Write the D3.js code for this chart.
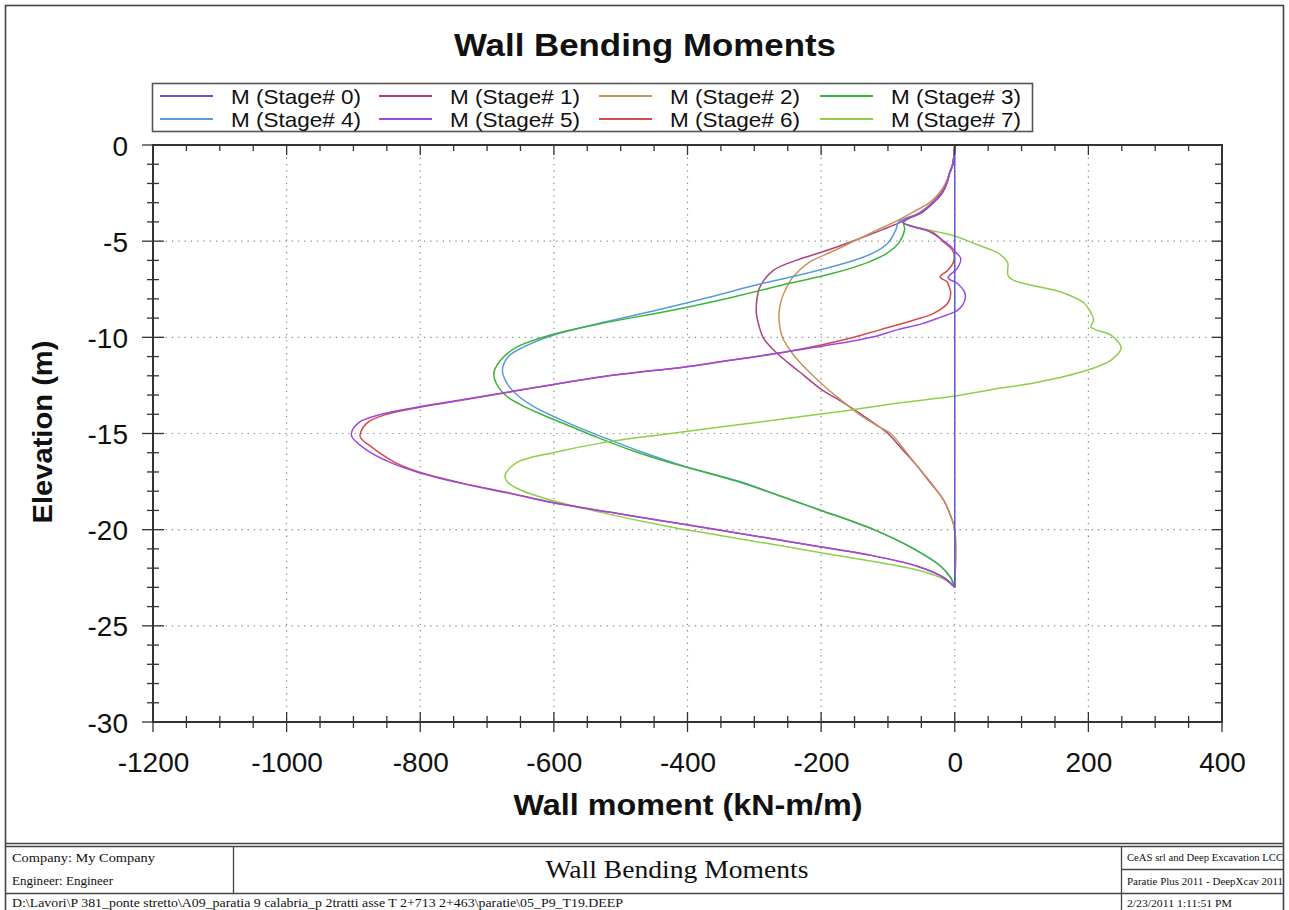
<!DOCTYPE html>
<html><head><meta charset="utf-8">
<script src="https://cdn.jsdelivr.net/npm/d3@7"></script>
<style>body{margin:0;background:#fff}svg{display:block}</style>
</head><body>
<svg id="c" width="1289" height="910"></svg>
<script>
// ---------- DATA ----------
const stageNames = ["M (Stage# 0)","M (Stage# 1)","M (Stage# 2)","M (Stage# 3)",
                    "M (Stage# 4)","M (Stage# 5)","M (Stage# 6)","M (Stage# 7)"];
const stageColors = ["#5a5ad2","#b0407c","#c8925c","#3cb43c","#5a9ad8","#9a4ae0","#d84a4a","#8cd04a"];

const s0Elev = [0,-23];
const s0M    = [0,0];

const s1Elev = [0,-0.5,-1,-1.5,-2,-2.5,-3,-3.5,-4,-4.4,-4.9,-5.5,-6,-6.5,-7,-7.5,-8,-8.7,-9.4,-10,-10.7,-11.3,-12,-12.7,-13.3,-14,-14.7,-15,-16,-16.7,-17.5,-18.5,-19.3,-20,-23];
const s1M    = [0,-1,-3,-8,-13,-21,-34,-52,-80,-108,-145,-193,-238,-271,-285,-293,-296,-297,-293,-287,-270,-250,-225,-200,-171,-140,-111,-100,-74,-56,-38,-16,-6,0,0];

const s2Elev = [0,-0.5,-1,-1.5,-2,-2.5,-3,-3.5,-4,-4.4,-4.9,-5.5,-6.1,-6.5,-7,-7.5,-8,-8.7,-9.4,-10,-10.7,-11.3,-12,-12.7,-13.1,-14,-14.7,-15,-16,-16.7,-17.5,-18.5,-19.3,-20,-23];
const s2M    = [0,-1,-3,-8,-14,-23,-38,-63,-90,-115,-145,-181,-218,-232,-245,-253,-259,-263,-262,-258,-246,-232,-212,-190,-176,-143,-111,-96,-72,-56,-37,-16,-6,0,0];

const s3Elev = [0,-0.5,-1,-1.5,-2,-2.5,-3,-3.5,-4,-4.4,-5.1,-5.6,-6.1,-6.66,-7.18,-7.9,-8.58,-9.26,-9.88,-10.5,-11.2,-11.9,-12.9,-13.5,-14.1,-14.7,-15.2,-15.9,-16.5,-17.5,-18.5,-19,-20,-21.1,-21.9,-22.5,-23];
const s3M    = [0,-1,-3,-8,-12,-19,-32,-49,-76,-75,-84,-100,-130,-181,-246,-331,-421,-526,-605,-655,-680,-690,-676,-650,-612,-570,-535,-482,-428,-325,-241,-200,-121,-56,-21,-6,0];

const s4Elev = [0,-0.5,-1,-1.5,-2,-2.5,-3,-3.5,-4,-4.4,-5.1,-5.6,-6.1,-6.66,-7.18,-7.9,-8.58,-9.26,-9.88,-10.5,-11,-11.7,-12.4,-13,-13.6,-14.2,-14.8,-15.4,-16,-16.7,-17.5,-18.5,-19,-20,-21.1,-21.9,-22.5,-23];
const s4M    = [0,-1,-3,-8,-12,-19,-33,-50,-84,-88,-100,-121,-160,-220,-286,-366,-445,-530,-600,-645,-668,-677,-670,-655,-630,-595,-555,-511,-465,-405,-322,-241,-200,-121,-56,-21,-6,0];

const s5Elev = [0,-0.5,-1,-1.5,-2,-2.5,-3,-3.5,-4,-4.5,-4.9,-5.3,-5.56,-5.9,-6.4,-6.9,-7.2,-7.6,-7.9,-8.3,-8.6,-9,-9.3,-9.6,-10,-10.3,-10.8,-11.27,-11.5,-12.06,-12.84,-13.26,-13.6,-14,-14.46,-15.1,-15.86,-16.5,-17,-17.58,-18.1,-18.56,-19.1,-19.6,-20,-20.9,-21.3,-21.9,-22.5,-23];
const s5M    = [0,-1,-3,-8,-12,-19,-32,-49,-78,-38,-20,-5,1,9,4,-10,4,14,16,12,4,-25,-50,-85,-125,-170,-260,-351,-395,-530,-668,-740,-800,-858,-893,-903,-880,-845,-805,-740,-668,-607,-515,-427,-355,-200,-130,-56,-16,0];

const s6Elev = [0,-0.5,-1,-1.5,-2,-2.5,-3,-3.5,-4,-4.58,-5,-5.56,-6.08,-6.5,-6.86,-7.1,-7.3,-7.7,-8.2,-8.74,-9.1,-9.6,-10,-10.4,-10.8,-11.27,-11.5,-12.06,-12.84,-13.26,-13.6,-14,-14.46,-15.15,-15.7,-16.5,-17,-17.58,-18.1,-18.56,-19.1,-19.6,-20,-20.9,-21.3,-21.9,-22.5,-23];
const s6M    = [0,-1,-3,-8,-12,-19,-32,-49,-78,-31,-18,-2,-2,-10,-22,-12,-9,-6,-10,-31,-61,-111,-151,-200,-260,-351,-395,-530,-665,-736,-795,-850,-880,-890,-873,-838,-802,-737,-665,-605,-515,-427,-355,-200,-130,-56,-16,0];

const s7Elev = [0,-0.5,-1,-1.5,-2,-2.5,-3,-3.5,-4,-4.73,-5.2,-5.6,-6.1,-6.86,-7.64,-8.2,-8.74,-9.1,-9.46,-9.88,-10.3,-10.56,-11.18,-11.7,-12.38,-12.64,-13.05,-13.4,-13.9,-14.66,-15,-15.5,-16,-16.5,-17.16,-17.5,-17.94,-18.46,-19.1,-19.86,-20.3,-21.2,-22.1,-22.6,-23];
const s7M    = [0,-1,-3,-8,-12,-19,-32,-49,-78,0,35,64,79,81,159,193,204,208,204,234,246,249,234,199,118,69,0,-81,-180,-351,-425,-530,-601,-655,-673,-670,-650,-605,-530,-425,-351,-200,-56,-15,0];

const xMajorTicks = [-1200,-1000,-800,-600,-400,-200,0,200,400];
const yMajorTicks = [0,-5,-10,-15,-20,-25,-30];

const chartTitle = "Wall Bending Moments";
const xTitle = "Wall moment (kN-m/m)";
const yTitle = "Elevation (m)";
const footerCompany = "Company: My Company";
const footerEngineer = "Engineer: Engineer";
const footerTitle = "Wall Bending Moments";
const footerPath = "D:\\Lavori\\P 381_ponte stretto\\A09_paratia 9 calabria_p 2tratti asse T 2+713 2+463\\paratie\\05_P9_T19.DEEP";
const footerRight = ["CeAS srl and Deep Excavation LCC","Paratie Plus 2011 - DeepXcav 2011","2/23/2011 1:11:51 PM"];

// ---------- DRAWING ----------
const svg = d3.select("#c");
const L=153, R=1222, T=145, B=722;
const x = d3.scaleLinear().domain([-1200,400]).range([L,R]);
const y = d3.scaleLinear().domain([0,-30]).range([T,B]);
const xMinor = d3.range(-1200,401,50);
const yMinor = d3.range(0,-30.5,-1);
const SANS = "'Liberation Sans', Arial, Helvetica, sans-serif";
const SERIF = "'Liberation Serif', 'Times New Roman', serif";

function fit(sel, w){ sel.attr("textLength", w).attr("lengthAdjust","spacingAndGlyphs"); }

// page border
svg.append("rect").attr("x",5.5).attr("y",5.5).attr("width",1278).attr("height",920)
  .attr("fill","#fff").attr("stroke","#444").attr("stroke-width",1.6);

// title
svg.append("text").attr("x",645).attr("y",56).attr("text-anchor","middle")
  .attr("font-family",SANS).attr("font-weight","bold").attr("font-size",32).attr("fill","#111")
  .text(chartTitle).call(fit,382);

// grid
const grid = svg.append("g").attr("stroke","#8a8a8a").attr("stroke-width",1.2).attr("stroke-dasharray","1.3,5");
xMajorTicks.filter(v=>v>-1200 && v<400).forEach(v=>{
  grid.append("line").attr("x1",x(v)).attr("x2",x(v)).attr("y1",T).attr("y2",B);
});
yMajorTicks.filter(v=>v<0 && v>-30).forEach(v=>{
  grid.append("line").attr("x1",L).attr("x2",R).attr("y1",y(v)).attr("y2",y(v));
});

// curves
svg.append("clipPath").attr("id","clip").append("rect").attr("x",L).attr("y",T).attr("width",R-L).attr("height",B-T);
const series = [
  {elev:s1Elev,m:s1M,c:stageColors[1]},{elev:s2Elev,m:s2M,c:stageColors[2]},
  {elev:s4Elev,m:s4M,c:stageColors[4]},{elev:s3Elev,m:s3M,c:stageColors[3]},
  {elev:s7Elev,m:s7M,c:stageColors[7]},{elev:s6Elev,m:s6M,c:stageColors[6]},
  {elev:s5Elev,m:s5M,c:stageColors[5]},{elev:s0Elev,m:s0M,c:stageColors[0]}
];
const line = d3.line().x(d=>x(d[0])).y(d=>y(d[1])).curve(d3.curveCatmullRom.alpha(0.5));
const cg = svg.append("g").attr("clip-path","url(#clip)");
series.forEach(s=>{
  cg.append("path").attr("d", line(d3.zip(s.m, s.elev)))
    .attr("fill","none").attr("stroke",s.c).attr("stroke-width",1.5).attr("stroke-linejoin","round");
});

// frame + ticks
const fr = svg.append("g").attr("stroke","#333").attr("stroke-width",1.3);
fr.append("rect").attr("x",L).attr("y",T).attr("width",R-L).attr("height",B-T).attr("fill","none").attr("stroke-width",2);
xMinor.forEach(v=>{
  const major = xMajorTicks.includes(v);
  const h = major?10:6;
  fr.append("line").attr("x1",x(v)).attr("x2",x(v)).attr("y1",B-h).attr("y2",B+h);
  if(v>-1200 && v<400) fr.append("line").attr("x1",x(v)).attr("x2",x(v)).attr("y1",T).attr("y2",T+(major?10:6));
});
yMinor.forEach(v=>{
  const major = yMajorTicks.includes(v);
  const h = major?11:6;
  fr.append("line").attr("x1",L-h).attr("x2",L+h).attr("y1",y(v)).attr("y2",y(v));
  if(v<0 && v>-30) fr.append("line").attr("x1",R-(major?10:7)).attr("x2",R).attr("y1",y(v)).attr("y2",y(v));
});

// axis labels via d3 axes (tick lines hidden, labels only)
const xAxis = svg.append("g").attr("transform",`translate(0,${B})`)
  .call(d3.axisBottom(x).tickValues(xMajorTicks).tickSize(0).tickPadding(0).tickFormat(d3.format("d")));
xAxis.select(".domain").remove();
xAxis.selectAll("text").attr("y",50).attr("dy",null).attr("font-family",SANS).attr("font-size",28).attr("fill","#111")
  .text(d=>String(d));
const yAxis = svg.append("g").attr("transform",`translate(${L},0)`)
  .call(d3.axisLeft(y).tickValues(yMajorTicks).tickSize(0).tickPadding(25).tickFormat(d=>String(d)));
yAxis.select(".domain").remove();
yAxis.selectAll("text").attr("font-family",SANS).attr("font-size",28).attr("fill","#111").attr("dy","0.36em");

svg.append("text").attr("x",688).attr("y",815).attr("text-anchor","middle")
  .attr("font-family",SANS).attr("font-weight","bold").attr("font-size",29).attr("fill","#111")
  .text(xTitle).call(fit,349);
svg.append("text").attr("transform","translate(52,432) rotate(-90)").attr("text-anchor","middle")
  .attr("font-family",SANS).attr("font-weight","bold").attr("font-size",28).attr("fill","#111")
  .text(yTitle).call(fit,183);

// legend
const lg = svg.append("g");
lg.append("rect").attr("x",152.5).attr("y",83.5).attr("width",880).attr("height",48)
  .attr("fill","#fff").attr("stroke","#555").attr("stroke-width",1.6);
const colX = [160,379,599,820];
const rowY = [96,119];
stageNames.forEach((n,i)=>{
  const cx = colX[i%4], ry = rowY[Math.floor(i/4)];
  lg.append("line").attr("x1",cx).attr("x2",cx+53).attr("y1",ry).attr("y2",ry)
    .attr("stroke",stageColors[i]).attr("stroke-width",2);
  lg.append("text").attr("x",cx+71).attr("y",ry+7.5).attr("font-family",SANS).attr("font-size",21).attr("fill","#111")
    .text(n).call(fit,130);
});

// footer
const ft = svg.append("g").attr("stroke","#444").attr("stroke-width",1.3);
ft.append("line").attr("x1",5).attr("x2",1284).attr("y1",843.5).attr("y2",843.5);
ft.append("line").attr("x1",5).attr("x2",1284).attr("y1",846.5).attr("y2",846.5);
ft.append("line").attr("x1",233.5).attr("x2",233.5).attr("y1",846).attr("y2",893);
ft.append("line").attr("x1",1121.5).attr("x2",1121.5).attr("y1",846).attr("y2",912);
ft.append("line").attr("x1",5).attr("x2",1284).attr("y1",893.5).attr("y2",893.5);
ft.append("line").attr("x1",1121).attr("x2",1284).attr("y1",869.5).attr("y2",869.5);

const tf = svg.append("g").attr("font-family",SERIF).attr("fill","#111");
tf.append("text").attr("x",12).attr("y",862).attr("font-size",13).text(footerCompany).call(fit,143);
tf.append("text").attr("x",12).attr("y",885).attr("font-size",13).text(footerEngineer).call(fit,101);
tf.append("text").attr("x",677).attr("y",878).attr("text-anchor","middle").attr("font-size",25).text(footerTitle).call(fit,263);
tf.append("text").attr("x",12).attr("y",907).attr("font-size",13).text(footerPath).call(fit,611);
tf.append("text").attr("x",1127).attr("y",861).attr("font-size",11).text(footerRight[0]).call(fit,156);
tf.append("text").attr("x",1127).attr("y",885).attr("font-size",11).text(footerRight[1]).call(fit,156);
tf.append("text").attr("x",1127).attr("y",907).attr("font-size",11).text(footerRight[2]).call(fit,105);
</script>
</body></html>
